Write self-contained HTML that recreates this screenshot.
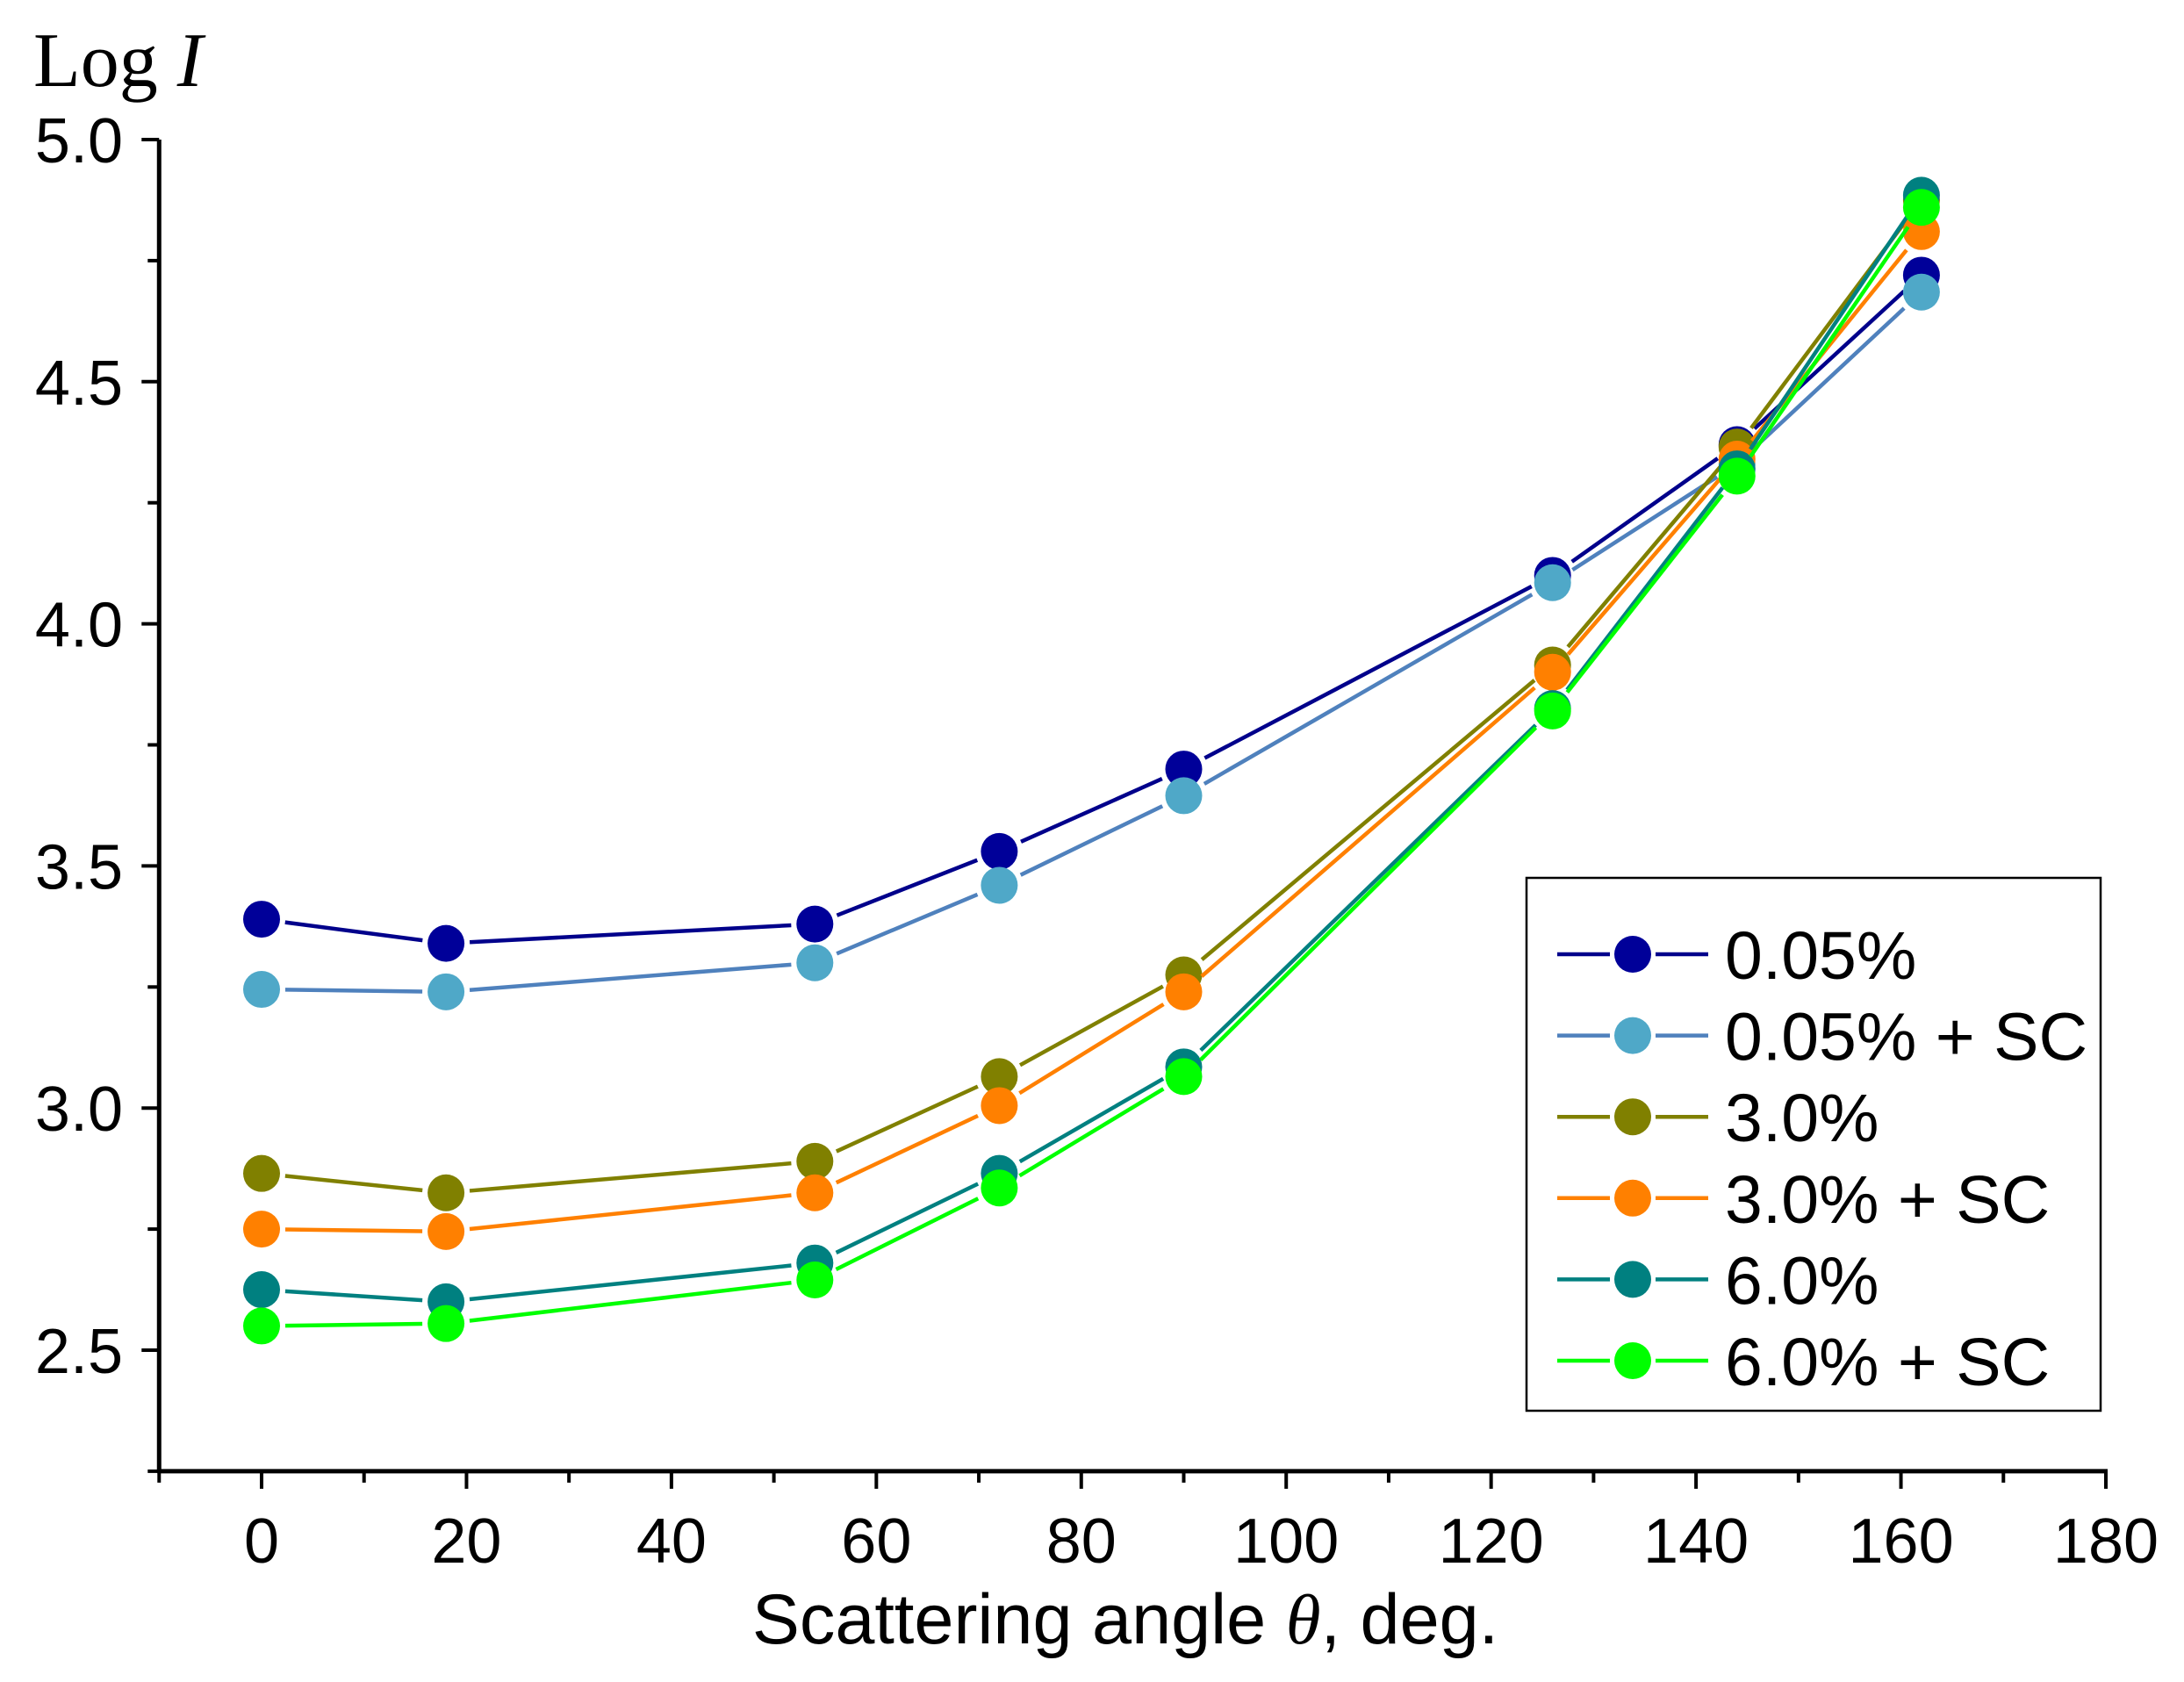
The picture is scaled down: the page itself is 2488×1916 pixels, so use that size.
<!DOCTYPE html>
<html><head><meta charset="utf-8"><style>
html,body{margin:0;padding:0;background:#fff}
svg{display:block}
text{font-family:"Liberation Sans",sans-serif;fill:#000}
</style></head><body>
<svg id="chart" width="2488" height="1916" viewBox="0 0 2488 1916">
<g id="axes"></g>
<g id="series"></g>
<g id="legend"></g>
</svg>
<script>
const angles = [0, 18, 54, 72, 90, 126, 144, 162];
const s005 = [3.39, 3.34, 3.38, 3.53, 3.70, 4.10, 4.37, 4.72];
const s005sc = [3.245, 3.24, 3.30, 3.46, 3.645, 4.085, 4.33, 4.685];
const s30 = [2.865, 2.825, 2.89, 3.065, 3.275, 3.915, 4.365, 4.875];
const s30sc = [2.75, 2.745, 2.825, 3.005, 3.24, 3.90, 4.34, 4.81];
const s60 = [2.625, 2.60, 2.68, 2.865, 3.085, 3.825, 4.32, 4.885];
const s60sc = [2.55, 2.555, 2.645, 2.835, 3.065, 3.82, 4.305, 4.86];
const seriesNames = ["0.05%", "0.05% + SC", "3.0%", "3.0% + SC", "6.0%", "6.0% + SC"];
const yTicks = ["2.5", "3.0", "3.5", "4.0", "4.5", "5.0"];
const xTicks = ["0", "20", "40", "60", "80", "100", "120", "140", "160", "180"];

const NS = "http://www.w3.org/2000/svg";
const X0 = 298, XS = (2399 - 298) / 180;
const Y0 = 159, YS = 551.6;
const xp = v => X0 + v * XS;
const yp = v => Y0 + (5 - v) * YS;
function mk(tag, attrs, parent, txt) {
  const e = document.createElementNS(NS, tag);
  for (const k in attrs) e.setAttribute(k, attrs[k]);
  if (txt !== undefined) e.textContent = txt;
  parent.appendChild(e);
  return e;
}
const axes = document.getElementById('axes');
const xl = xp(-10), xr = xp(180), yb = yp(2.25), yt = yp(5);
let e;
e = mk('line', {x1: xl, y1: yt, x2: xl, y2: yb + 2, stroke: '#000', 'stroke-width': 5}, axes);


e = mk('line', {x1: xl - 2, y1: yb, x2: xr + 2, y2: yb, stroke: '#000', 'stroke-width': 5}, axes);


for (let v = 2.25; v <= 5.001; v += 0.25) {
  const major = Math.abs(v * 2 - Math.round(v * 2)) < 1e-6;
  const len = major ? 20 : 13;
  e = mk('line', {x1: xl - len, y1: yp(v), x2: xl, y2: yp(v), stroke: '#000', 'stroke-width': 4}, axes);
  
  
}
yTicks.forEach(t => {
  e = mk('text', {x: 140, y: yp(parseFloat(t)) + 26, 'text-anchor': 'end', 'font-size': 72}, axes, t);
  
  
});
for (let v = -10; v <= 180; v += 10) {
  const major = v % 20 === 0;
  const len = major ? 20 : 13;
  e = mk('line', {x1: xp(v), y1: yb, x2: xp(v), y2: yb + len, stroke: '#000', 'stroke-width': 4}, axes);
  
  
}
xTicks.forEach(t => {
  e = mk('text', {x: xp(parseFloat(t)), y: 1780, 'text-anchor': 'middle', 'font-size': 72}, axes, t);
  
  
});
e = mk('text', {x: 1282, y: 1872, 'text-anchor': 'middle', 'font-size': 81}, axes);
e.innerHTML = 'Scattering angle <tspan font-family="Liberation Serif, serif" font-style="italic">θ</tspan>, deg.';


e = mk('text', {x: 38, y: 98, 'font-size': 88, style: 'font-family:"Liberation Serif",serif'}, axes);
e.innerHTML = 'Log <tspan font-style="italic">I</tspan>';



const allSeries = [s005, s005sc, s30, s30sc, s60, s60sc];
const lineCols = ['#00008b', '#4f81bd', '#808000', '#ff8000', '#008080', '#00ff00'];
const dotCols = ['#000099', '#4fa8c8', '#808000', '#ff8000', '#008080', '#00ff00'];
const R = 21, GAP = 27;
const sg = document.getElementById('series');
allSeries.forEach((vals, si) => {
  const g = mk('g', {}, sg);
  
  
  for (let i = 0; i < angles.length - 1; i++) {
    const x1 = xp(angles[i]), y1 = yp(vals[i]), x2 = xp(angles[i + 1]), y2 = yp(vals[i + 1]);
    const d = Math.hypot(x2 - x1, y2 - y1);
    if (d < 2 * GAP) continue;
    const ux = (x2 - x1) / d, uy = (y2 - y1) / d;
    const l = mk('line', {x1: x1 + ux * GAP, y1: y1 + uy * GAP, x2: x2 - ux * GAP, y2: y2 - uy * GAP, stroke: lineCols[si], 'stroke-width': 4.5}, g);
    
    
  }
  angles.forEach((a, i) => {
    const c = mk('circle', {cx: xp(a), cy: yp(vals[i]), r: R, fill: dotCols[si]}, g);
    
    
  });
});

const lg = document.getElementById('legend');
e = mk('rect', {x: 1739, y: 1000, width: 654, height: 607, fill: '#fff', stroke: '#000', 'stroke-width': 2.5}, lg);


seriesNames.forEach((n, i) => {
  const y = 1087 + i * 92.6;
  const g = mk('g', {}, lg);
  
  
  e = mk('line', {x1: 1774, y1: y, x2: 1834, y2: y, stroke: lineCols[i], 'stroke-width': 4.5}, g);
  
  
  e = mk('line', {x1: 1886, y1: y, x2: 1946, y2: y, stroke: lineCols[i], 'stroke-width': 4.5}, g);
  
  
  e = mk('circle', {cx: 1860, cy: y, r: R, fill: dotCols[i]}, g);
  
  
  e = mk('text', {x: 1965, y: y + 28, 'font-size': 77}, g, n);
  
  
});
</script>
</body></html>
